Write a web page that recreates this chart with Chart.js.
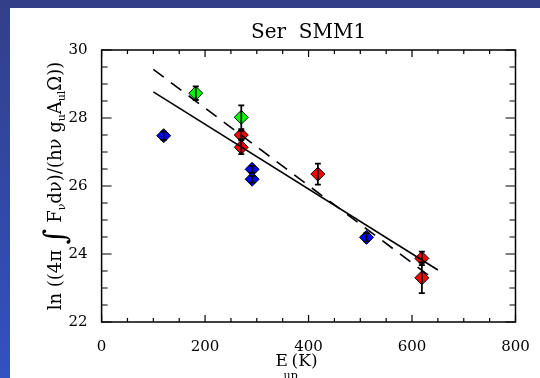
<!DOCTYPE html>
<html>
<head>
<meta charset="utf-8">
<script src="https://cdn.jsdelivr.net/npm/chart.js@4.4.1/dist/chart.umd.min.js"></script>
<style>
    html, body { margin: 0; padding: 0; background: #ffffff; }
    #wrap { width: 540px; height: 378px; position: relative; }
</style>
</head>
<body>
<div id="wrap"><canvas id="chart" width="540" height="378"></canvas></div>
<script>
// Ser SMM1 rotation diagram

// Blue points
const blueE = [120, 291, 291, 512];
const blueVal = [27.48, 26.49, 26.20, 24.49];
const blueErr = [0.12, 0.10, 0.10, 0.12];

// Green points
const greenE = [182, 270];
const greenVal = [28.73, 28.02];
const greenErr = [0.20, 0.35];

// Red points
const redE = [270, 270, 418, 619, 619];
const redVal = [27.50, 27.14, 26.35, 23.87, 23.30];
const redErr = [0.12, 0.20, 0.31, 0.20, 0.45];

// Fit lines
const solidE = [100, 650];
const solidVal = [28.77, 23.53];
const dashedE = [100, 642];
const dashedVal = [29.43, 23.26];

// Axis ticks
const xTicks = [0, 200, 400, 600, 800];
const yTicks = [22, 24, 26, 28, 30];

const serif = "'DejaVu Serif', serif";

function toPoints(xs, ys, errs) {
    return xs.map((x, i) => ({ x: x, y: ys[i], err: errs ? errs[i] : 0 }));
}

// background with the blue slide frame
const framePlugin = {
    id: "frame",
    beforeDraw(chart) {
        const ctx = chart.ctx;
        ctx.save();
        const g = ctx.createLinearGradient(0, 0, 0, 378);
        g.addColorStop(0, "#333f88");
        g.addColorStop(1, "#3351c2");
        ctx.fillStyle = g;
        ctx.fillRect(0, 0, 540, 378);
        ctx.fillStyle = "#ffffff";
        ctx.fillRect(10, 8, 530, 370);
        ctx.restore();
    }
};

// error bars, box, inward ticks and titles
const decorPlugin = {
    id: "decor",
    afterDatasetsDraw(chart) {
        const ctx = chart.ctx;
        const xs = chart.scales.x;
        const ys = chart.scales.y;
        ctx.save();
        ctx.strokeStyle = "#000";
        ctx.lineWidth = 1.8;
        chart.data.datasets.forEach(ds => {
            if (!ds.errorBars) return;
            ds.data.forEach(p => {
                const px = xs.getPixelForValue(p.x);
                const y1 = ys.getPixelForValue(p.y - p.err);
                const y2 = ys.getPixelForValue(p.y + p.err);
                ctx.beginPath();
                ctx.moveTo(px, y1);
                ctx.lineTo(px, y2);
                ctx.moveTo(px - 3, y1);
                ctx.lineTo(px + 3, y1);
                ctx.moveTo(px - 3, y2);
                ctx.lineTo(px + 3, y2);
                ctx.stroke();
            });
        });
        ctx.restore();
    },
    afterDraw(chart) {
        const ctx = chart.ctx;
        const a = chart.chartArea;
        const xs = chart.scales.x;
        const ys = chart.scales.y;
        ctx.save();
        ctx.strokeStyle = "#000";
        ctx.lineWidth = 1.5;
        ctx.strokeRect(a.left, a.top, a.right - a.left, a.bottom - a.top);

        ctx.lineWidth = 1.2;
        ctx.beginPath();
        for (let v = 0; v <= 800; v += 50) {
            const px = xs.getPixelForValue(v);
            const len = v % 200 === 0 ? 7 : 4;
            ctx.moveTo(px, a.bottom);
            ctx.lineTo(px, a.bottom - len);
            ctx.moveTo(px, a.top);
            ctx.lineTo(px, a.top + len);
        }
        for (let v = 22; v <= 30; v += 0.5) {
            const py = ys.getPixelForValue(v);
            const len = v % 2 === 0 ? 10 : 6;
            ctx.moveTo(a.left, py);
            ctx.lineTo(a.left + len, py);
            ctx.moveTo(a.right, py);
            ctx.lineTo(a.right - len, py);
        }
        ctx.stroke();

        // title
        ctx.fillStyle = "#000";
        ctx.font = "20px " + serif;
        ctx.textAlign = "center";
        ctx.textBaseline = "alphabetic";
        ctx.fillText("Ser  SMM1", (a.left + a.right) / 2, 38);

        // x title: E_up (K)
        ctx.textAlign = "left";
        const cx = (a.left + a.right) / 2;
        ctx.font = "17px " + serif;
        ctx.fillText("E", cx - 33, 366);
        ctx.font = "11px " + serif;
        ctx.fillText("up", cx - 25, 379);
        ctx.font = "17px " + serif;
        ctx.fillText("(K)", cx - 17, 366);

        // y title, rotated, with subscripts
        const parts = [
            { t: "ln ((4\u03c0 ", f: 18, dy: 0 },
            { t: "\u222b", f: 30, dy: 4 },
            { t: " F", f: 18, dy: 0 },
            { t: "\u03bd", f: 11, dy: 4 },
            { t: "d\u03bd)/(h\u03bd g", f: 18, dy: 0 },
            { t: "u", f: 11, dy: 4 },
            { t: "A", f: 18, dy: 0 },
            { t: "ul", f: 11, dy: 4 },
            { t: "\u03a9))", f: 18, dy: 0 }
        ];
        let total = 0;
        parts.forEach(p => {
            ctx.font = p.f + "px " + serif;
            p.w = ctx.measureText(p.t).width;
            total += p.w;
        });
        ctx.translate(61, (a.top + a.bottom) / 2);
        ctx.rotate(-Math.PI / 2);
        let x = -total / 2;
        parts.forEach(p => {
            ctx.font = p.f + "px " + serif;
            ctx.fillText(p.t, x, p.dy);
            x += p.w;
        });
        ctx.restore();
    }
};

const ctx = document.getElementById("chart");
new Chart(ctx, {
    type: "scatter",
    data: {
        datasets: [
            {
                label: "fit",
                type: "line",
                data: toPoints(solidE, solidVal),
                borderColor: "#000",
                borderWidth: 1.6,
                pointRadius: 0,
                fill: false,
                order: 1
            },
            {
                label: "fit2",
                type: "line",
                data: toPoints(dashedE, dashedVal),
                borderColor: "#000",
                borderWidth: 1.6,
                borderDash: [13, 9],
                pointRadius: 0,
                fill: false,
                order: 1
            },
            {
                label: "blue",
                data: toPoints(blueE, blueVal, blueErr),
                backgroundColor: "#0000ff",
                borderColor: "#000",
                borderWidth: 1,
                pointStyle: "rectRot",
                pointRadius: 7,
                errorBars: true,
                order: 2
            },
            {
                label: "green",
                data: toPoints(greenE, greenVal, greenErr),
                backgroundColor: "#00ff00",
                borderColor: "#000",
                borderWidth: 1,
                pointStyle: "rectRot",
                pointRadius: 7,
                errorBars: true,
                order: 2
            },
            {
                label: "red",
                data: toPoints(redE, redVal, redErr),
                backgroundColor: "#ff0000",
                borderColor: "#000",
                borderWidth: 1,
                pointStyle: "rectRot",
                pointRadius: 7,
                errorBars: true,
                order: 2
            }
        ]
    },
    options: {
        responsive: false,
        animation: false,
        layout: { padding: { left: 0, top: 50, right: 24.5, bottom: 0 } },
        plugins: {
            legend: { display: false },
            tooltip: { enabled: false }
        },
        scales: {
            x: {
                type: "linear",
                min: 0,
                max: 800,
                afterBuildTicks: s => { s.ticks = xTicks.map(v => ({ value: v })); },
                afterFit: s => { s.height = 56; },
                grid: { display: false },
                border: { display: false },
                ticks: {
                    color: "#000",
                    font: { family: serif, size: 15 },
                    padding: 8,
                    maxRotation: 0
                }
            },
            y: {
                type: "linear",
                min: 22,
                max: 30,
                afterBuildTicks: s => { s.ticks = yTicks.map(v => ({ value: v })); },
                afterFit: s => { s.width = 101.6; },
                grid: { display: false },
                border: { display: false },
                ticks: {
                    color: "#000",
                    font: { family: serif, size: 15 },
                    padding: 6
                }
            }
        }
    },
    plugins: [framePlugin, decorPlugin]
});
</script>
</body>
</html>
